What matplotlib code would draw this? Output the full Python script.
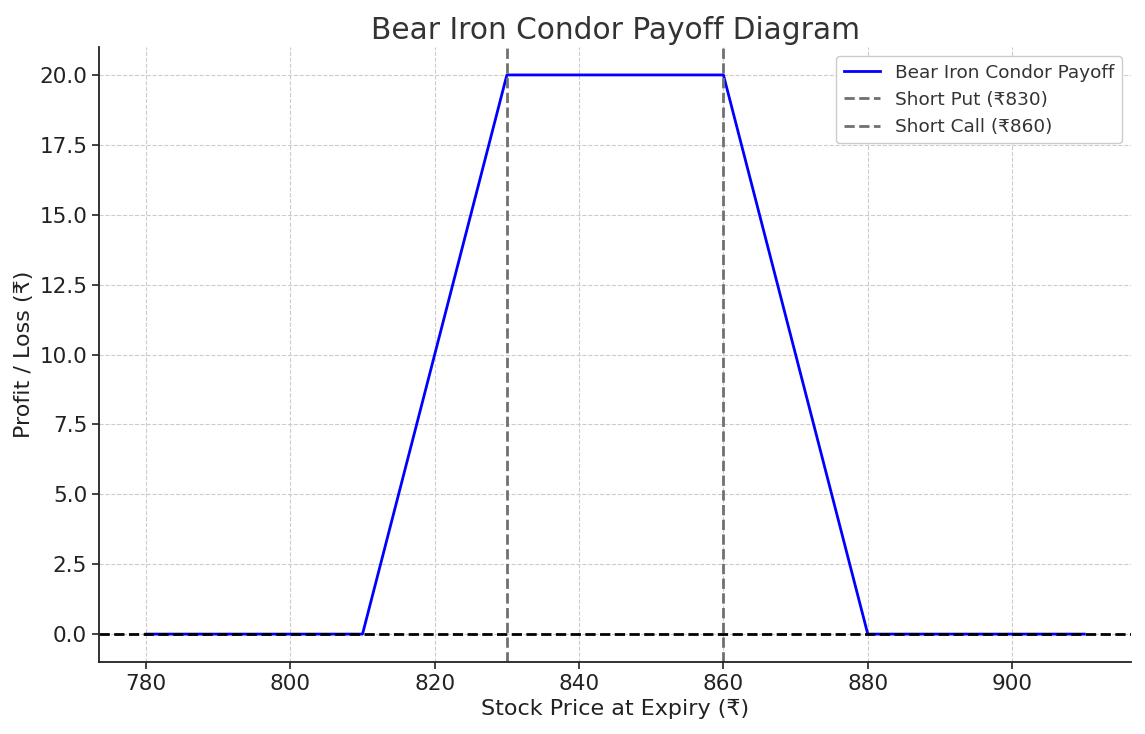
import matplotlib.pyplot as plt
import numpy as np

plt.rcParams['font.family'] = ['DejaVu Sans', 'Noto Sans']

# payoff breakpoints
prices = [780, 810, 830, 860, 880, 910]
payoff = [0, 0, 20, 20, 0, 0]
short_put = 830
short_call = 860

fig = plt.figure(figsize=(11.45, 7.34), dpi=100)
ax = fig.add_axes([0.0865, 0.098, 0.9015, 0.838])

ax.plot(prices, payoff, color='blue', lw=2, label='Bear Iron Condor Payoff')
ax.axhline(0, color='black', ls='--', lw=2)
ax.axvline(short_put, color='#707070', ls='--', lw=2, label='Short Put (₹830)')
ax.axvline(short_call, color='#707070', ls='--', lw=2, label='Short Call (₹860)')

ax.set_xticks(np.arange(780, 901, 20))
ax.set_yticks(np.arange(0, 20.1, 2.5))
ax.set_yticklabels([f'{v:.1f}' for v in np.arange(0, 20.1, 2.5)])
ax.grid(True, ls='--', color='#cccccc', lw=0.8)
ax.spines['top'].set_visible(False)
ax.spines['right'].set_visible(False)
for s in ['left', 'bottom']:
    ax.spines[s].set_linewidth(1.3)
    ax.spines[s].set_color('#222222')
ax.tick_params(labelsize=15.5, colors='#222222', width=1.2, length=5)

ax.set_title('Bear Iron Condor Payoff Diagram', fontsize=21.3, color='#333333')
ax.set_xlabel('Stock Price at Expiry (₹)', fontsize=16, color='#222222')
ax.set_ylabel('Profit / Loss (₹)', fontsize=16, color='#222222')
ax.legend(loc='upper right', fontsize=13.3, framealpha=1, edgecolor='#cccccc',
          labelcolor='#333333')

fig.savefig('out.png')
